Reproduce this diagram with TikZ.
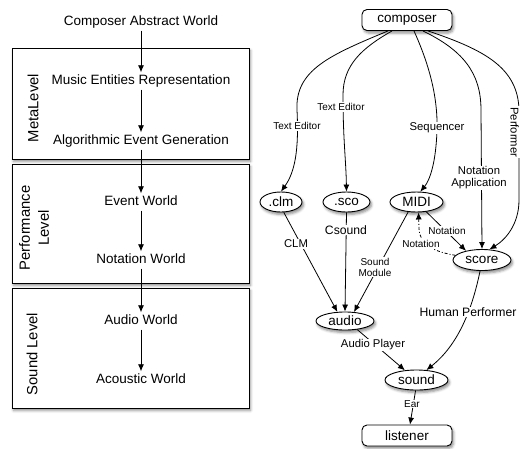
\documentclass[tikz,border=0pt]{standalone}
\usepackage{fontspec}
\setmainfont{Liberation Sans}
\usetikzlibrary{arrows.meta,shapes.geometric,shadows.blur}
\begin{document}
\begin{tikzpicture}[x=1pt,y=-1pt,
  arr/.style={-{Latex[length=7pt,width=6pt]}, line width=0.8pt},
  shad/.style={blur shadow={shadow xshift=1.5pt,shadow yshift=-2.5pt,shadow blur radius=2.5pt,shadow opacity=45}},
  lvlbox/.style={draw, line width=1pt, fill=white, shad, inner sep=0pt, minimum width=237pt},
  world/.style={font=\fontsize{13.5}{15}\selectfont, inner sep=2pt, text height=10pt, text depth=3pt},
  lvl/.style={font=\fontsize{14.8}{19}\selectfont, rotate=90, align=center},
  ell/.style={ellipse, draw, line width=0.9pt, fill=white, shad, inner sep=0pt, minimum height=20pt, font=\fontsize{13.5}{15}\selectfont},
  rbox/.style={rectangle, rounded corners=5pt, draw, line width=0.9pt, fill=white, shad, minimum width=90pt, minimum height=21pt, inner sep=0pt, font=\fontsize{13.5}{15}\selectfont},
  lsmall/.style={fill=white, inner sep=1pt, align=center, font=\fontsize{10}{11}\selectfont},
  lmid/.style={fill=white, inner sep=1pt, align=center, font=\fontsize{11.3}{12}\selectfont},
  lbig/.style={fill=white, inner sep=1pt, align=center, font=\fontsize{12.2}{13}\selectfont}
]
\useasboundingbox (0,0) rectangle (520,448);

% level boxes
\node[lvlbox, minimum height=111pt] (bmeta) at (130.5,103.5) {};
\node[lvlbox, minimum height=119pt] (bperf) at (130.5,223.5) {};
\node[lvlbox, minimum height=120pt] (bsound) at (130.5,348) {};

\node[lvl] (lmeta) at (33,108) {MetaLevel};
\node[lvl] (lperf) at (34,228) {Performance\\Level};
\node[lvl] (lsnd) at (32,354) {Sound Level};

% worlds
\node[world] (caw) at (141,22) {Composer Abstract World};
\node[world] (mer) at (141,81) {Music Entities Representation};
\node[world] (aeg) at (141,141) {Algorithmic Event Generation};
\node[world] (evw) at (141,202) {Event World};
\node[world] (ntw) at (141,260) {Notation World};
\node[world] (auw) at (141,321) {Audio World};
\node[world] (acw) at (141,380) {Acoustic World};

\draw[arr] (caw) -- (mer);
\draw[arr] (mer) -- (aeg);
\draw[arr] (aeg) -- (evw);
\draw[arr] (evw) -- (ntw);
\draw[arr] (ntw) -- (auw);
\draw[arr] (auw) -- (acw);

% right graph nodes
\node[rbox] (composer) at (407,20) {composer};
\node[ell, minimum width=42pt] (clm) at (281,202) {.clm};
\node[ell, minimum width=47pt] (sco) at (346.5,202) {.sco};
\node[ell, minimum width=53pt] (midi) at (416.5,202) {MIDI};
\node[ell, minimum width=58pt, minimum height=21pt] (score) at (482,260) {score};
\node[ell, minimum width=58pt, minimum height=18pt] (audio) at (345,321) {audio};
\node[ell, minimum width=63pt] (sound) at (416.5,380) {sound};
\node[rbox] (listener) at (407,435.5) {listener};

% edges
\draw[arr] ([xshift=-19pt]composer.south) .. controls (330,55) and (295,70) .. (297,110)
  .. controls (299,150) and (295,172) .. (clm.north);
\draw[arr] ([xshift=-15pt]composer.south) .. controls (362,48) and (343,65) .. (343,95)
  .. controls (343,140) and (346,160) .. (sco.north);
\draw[arr] ([xshift=7pt]composer.south) .. controls (428,62) and (438,95) .. (437,130)
  .. controls (436,162) and (430,180) .. (midi.70);
\draw[arr] ([xshift=16pt]composer.south) .. controls (462,50) and (481,72) .. (481,110) -- (score.north);
\draw[arr] ([xshift=21pt]composer.south) .. controls (485,50) and (518,68) .. (519,110) -- (519,200)
  .. controls (519,225) and (505,240) .. (score.55);

\draw[arr] (clm.-75) -- (audio.130);
\draw[arr] (sco.south) -- (audio.north);
\draw[arr] (midi.-130) -- (audio.45);
\draw[arr] (midi.-45) -- (score.150);
\draw[arr, dash pattern=on 3pt off 2pt on 1pt off 2pt] (score.170) .. controls (435,252) and (419,245) .. (419,228)
  -- ([xshift=2pt]midi.south);
\draw[arr] (audio.-35) -- (sound.140);
\draw[arr] (score.-100) .. controls (472,310) and (458,345) .. (sound.45);
\draw[arr] (sound.-95) -- ([xshift=3pt]listener.north);

% edge labels
\node[lsmall] (l1) at (297,126) {Text Editor};
\node[lsmall] (l2) at (341,107) {Text Editor};
\node[lmid] (l3) at (437,128) {Sequencer};
\node[lmid] (l4) at (479,178) {Notation\\Application};
\node[lmid, anchor=base west, rotate=-90] (l5) at (510.5,106) {Performer};
\node[lmid] (l6) at (296,244) {CLM};
\node[lbig] (l7) at (346,230) {Csound};
\node[lsmall] (l8) at (375,267) {Sound\\Module};
\node[lsmall] (l9) at (447,231) {Notation};
\node[lsmall] (l10) at (421,244) {Notation};
\node[lmid] (l11) at (373,345) {Audio Player};
\node[lbig] (l12) at (468,312) {Human Performer};
\node[lsmall] (l13) at (412,404) {Ear};
\end{tikzpicture}
\end{document}
